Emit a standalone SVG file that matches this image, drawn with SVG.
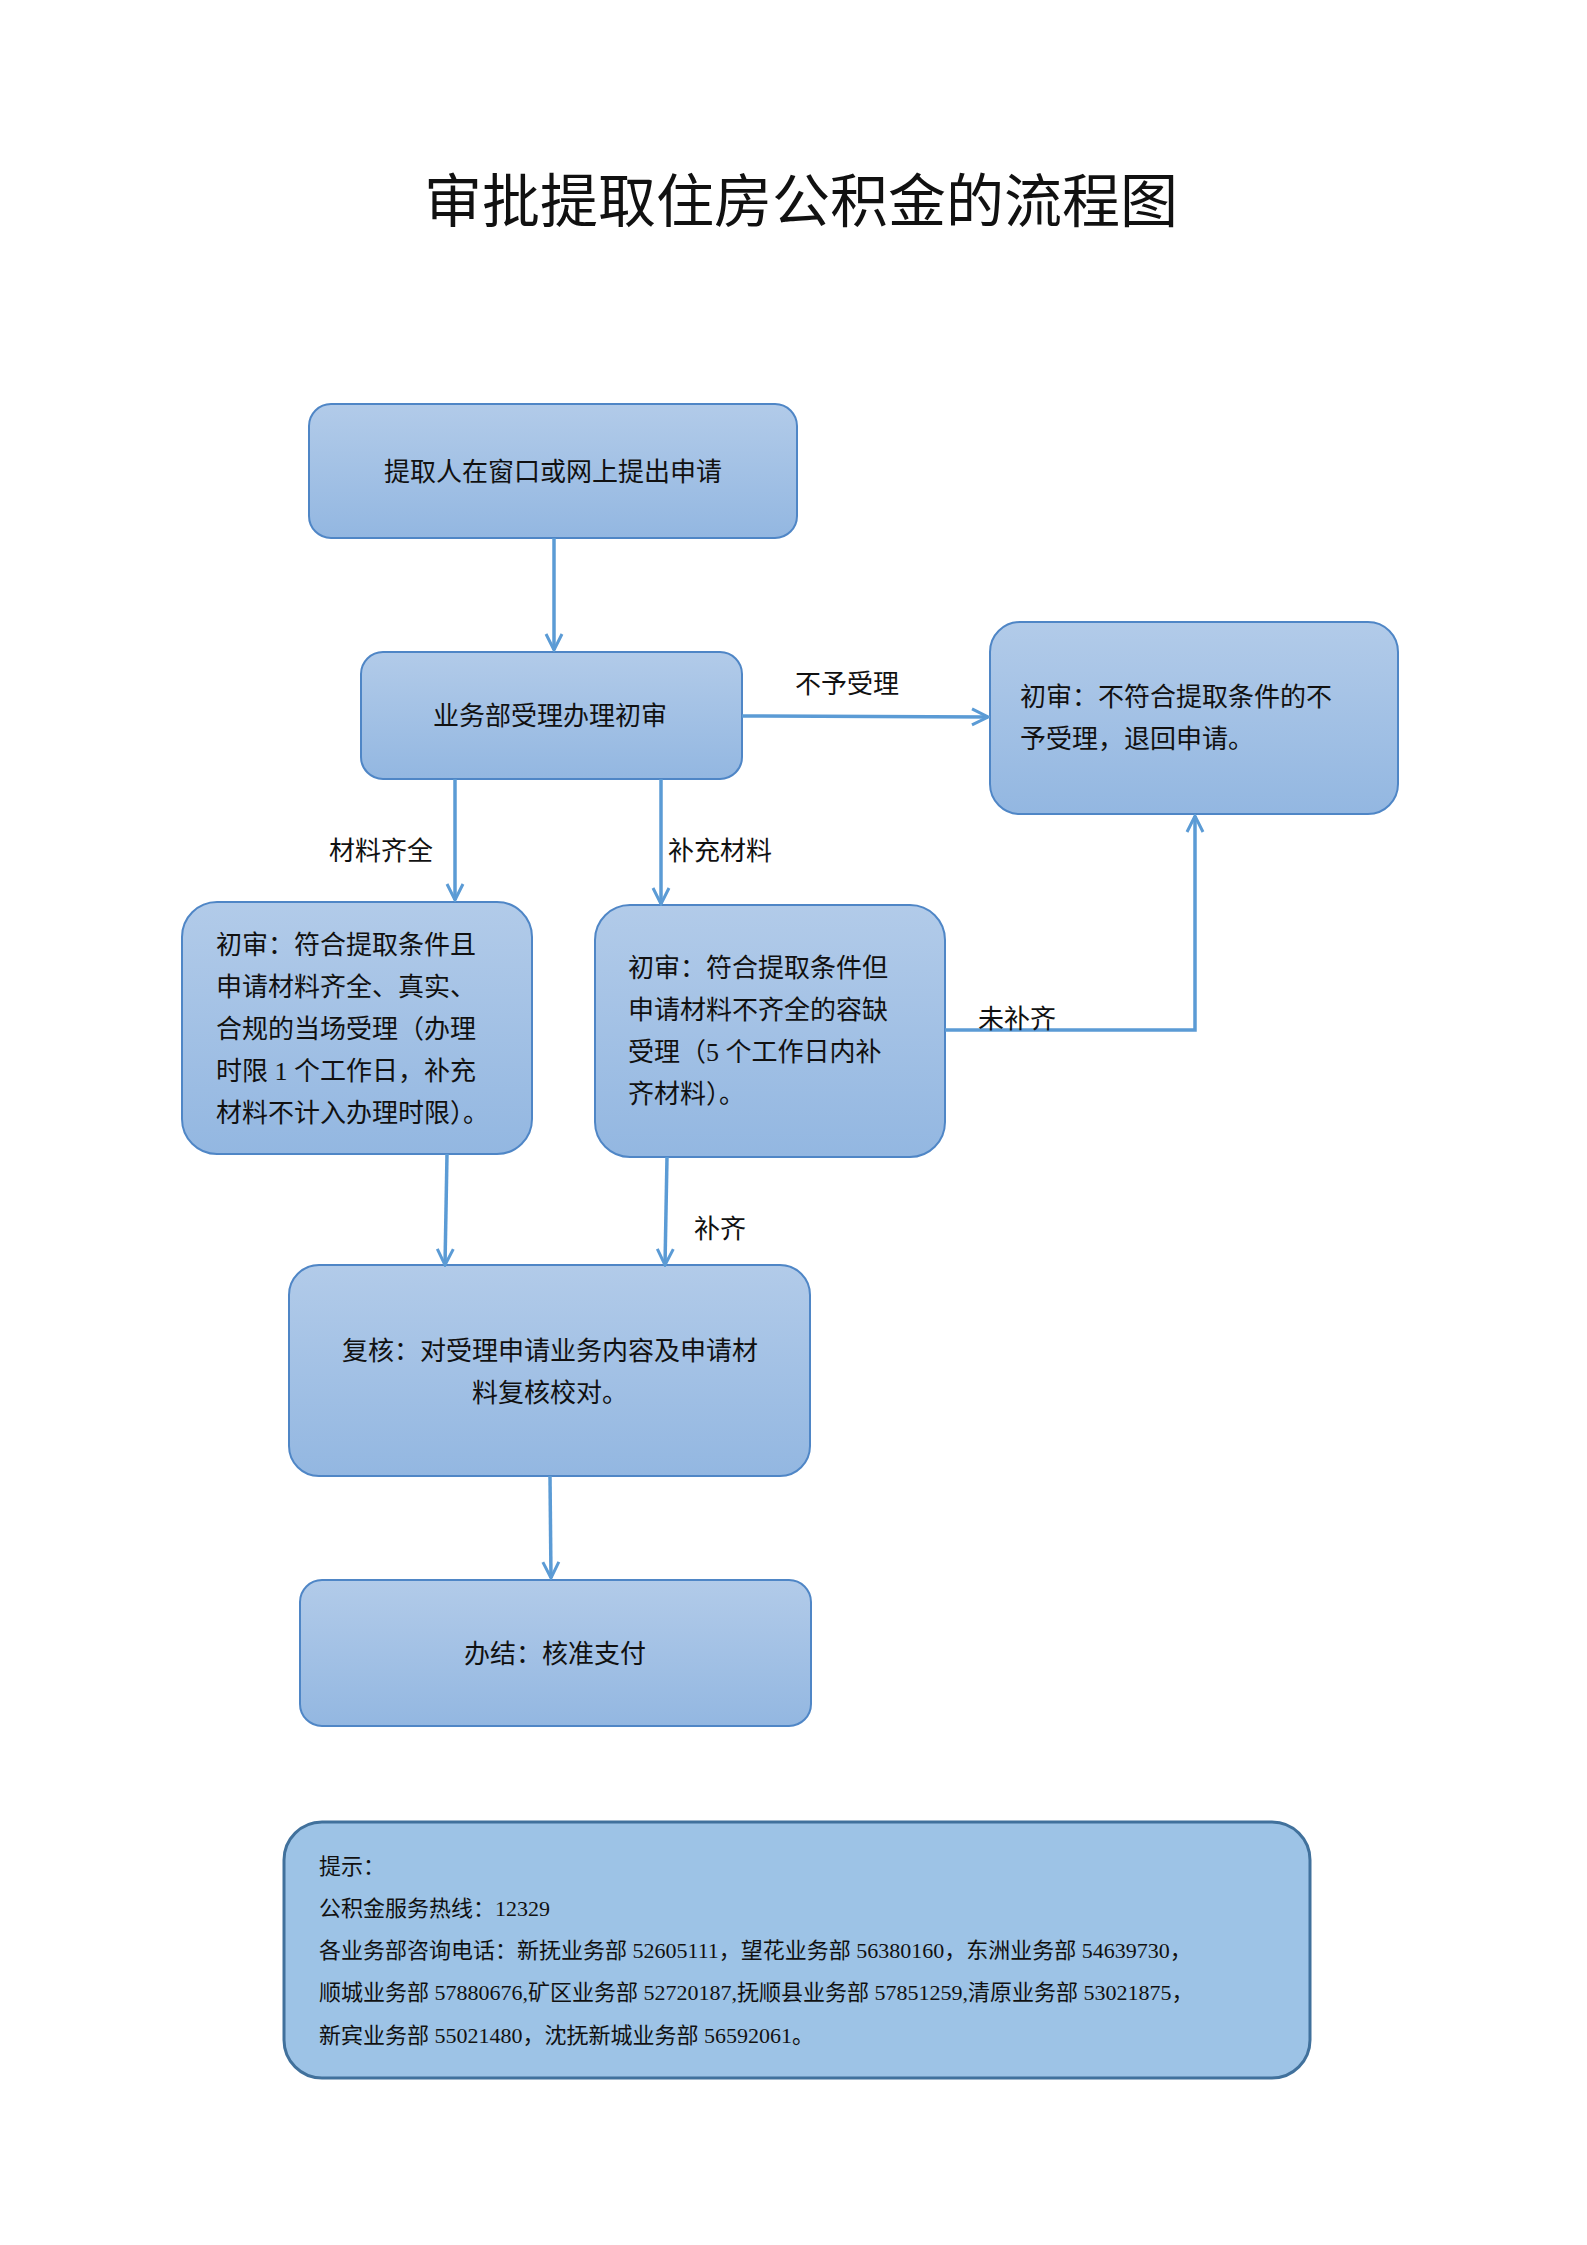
<svg xmlns="http://www.w3.org/2000/svg" width="1587" height="2245" viewBox="0 0 1587 2245">
<defs>
<linearGradient id="g" x1="0" y1="0" x2="0" y2="1"><stop offset="0" stop-color="#b2cbe9"/><stop offset="1" stop-color="#93b7e1"/></linearGradient>
<marker id="a" viewBox="0 0 20 20" refX="18" refY="10" markerWidth="20" markerHeight="20" markerUnits="userSpaceOnUse" orient="auto"><path d="M2,2 L18,10 L2,18" fill="none" stroke="#5b9bd5" stroke-width="3"/></marker>
<style>
.n{fill:url(#g);stroke:#4f86c6;stroke-width:2}
.t{font-family:"Liberation Serif","Noto Sans CJK SC",serif;font-size:26px;fill:#111}
.c{text-anchor:middle}
.s{font-size:22px}
.e{fill:none;stroke:#5b9bd5;stroke-width:3.5;marker-end:url(#a)}
</style>
</defs>
<rect width="1587" height="2245" fill="#fff"/>
<text class="t c" x="801" y="222" style="font-size:58px">审批提取住房公积金的流程图</text>
<g id="n1"><rect class="n" x="309" y="404" width="488" height="134" rx="22"/><text class="t c" x="553" y="481">提取人在窗口或网上提出申请</text></g>
<g id="n2"><rect class="n" x="361" y="652" width="381" height="127" rx="22"/><text class="t c" x="550" y="725">业务部受理办理初审</text></g>
<g id="n3"><rect class="n" x="990" y="622" width="408" height="192" rx="30"/><text class="t" x="1020" y="706">初审：不符合提取条件的不</text><text class="t" x="1020" y="748">予受理，退回申请。</text></g>
<g id="n4"><rect class="n" x="182" y="902" width="350" height="252" rx="35"/>
<text class="t" x="216" y="954">初审：符合提取条件且</text><text class="t" x="216" y="996">申请材料齐全、真实、</text><text class="t" x="216" y="1038">合规的当场受理（办理</text><text class="t" x="216" y="1080">时限 1 个工作日，补充</text><text class="t" x="216" y="1122">材料不计入办理时限）。</text></g>
<g id="n5"><rect class="n" x="595" y="905" width="350" height="252" rx="35"/>
<text class="t" x="628" y="977">初审：符合提取条件但</text><text class="t" x="628" y="1019">申请材料不齐全的容缺</text><text class="t" x="628" y="1061">受理（5 个工作日内补</text><text class="t" x="628" y="1103">齐材料）。</text></g>
<g id="n6"><rect class="n" x="289" y="1265" width="521" height="211" rx="30"/><text class="t c" x="550" y="1360">复核：对受理申请业务内容及申请材</text><text class="t c" x="550" y="1402">料复核校对。</text></g>
<g id="n7"><rect class="n" x="300" y="1580" width="511" height="146" rx="22"/><text class="t c" x="555" y="1663">办结：核准支付</text></g>
<g id="note"><rect x="284" y="1822" width="1026" height="256" rx="38" fill="#9dc3e6" stroke="#41719c" stroke-width="3"/>
<text class="t s" x="319" y="1874">提示：</text><text class="t s" x="319" y="1916">公积金服务热线：12329</text><text class="t s" x="319" y="1958">各业务部咨询电话：新抚业务部 52605111，望花业务部 56380160，东洲业务部 54639730，</text><text class="t s" x="319" y="2000">顺城业务部 57880676,矿区业务部 52720187,抚顺县业务部 57851259,清原业务部 53021875，</text><text class="t s" x="319" y="2043">新宾业务部 55021480，沈抚新城业务部 56592061。</text></g>
<g id="edges">
<path class="e" d="M554,538 V650"/>
<path class="e" d="M742,716 L988,717"/>
<path class="e" d="M455,779 V900"/>
<path class="e" d="M661,779 V904"/>
<path class="e" d="M945,1030 H1195 V816"/>
<path class="e" d="M447,1154 L445,1265"/>
<path class="e" d="M667,1157 L665,1265"/>
<path class="e" d="M550,1476 L551,1578"/>
<text class="t c" x="847" y="693">不予受理</text>
<text class="t c" x="381" y="860">材料齐全</text>
<text class="t c" x="720" y="860">补充材料</text>
<text class="t c" x="1017" y="1028">未补齐</text>
<text class="t c" x="720" y="1238">补齐</text>
</g>
</svg>
